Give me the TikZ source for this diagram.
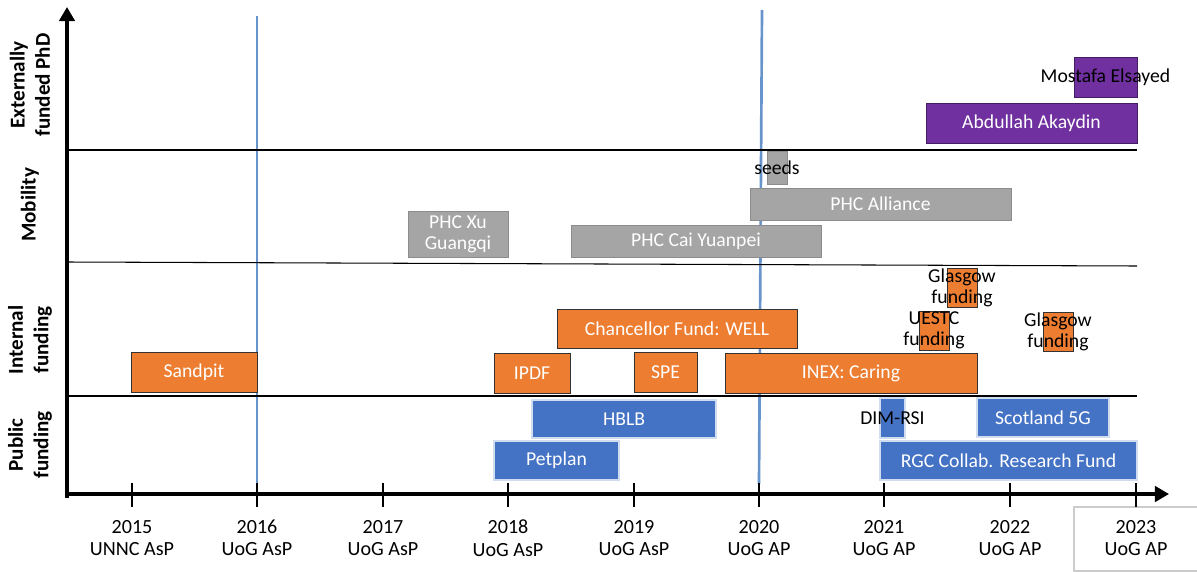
\documentclass[tikz,border=0pt]{standalone}
\usepackage{fontspec}
\setmainfont{Carlito}
\usetikzlibrary{arrows.meta}
\definecolor{barorange}{HTML}{ED7D31}
\definecolor{barblue}{HTML}{4472C4}
\definecolor{bargray}{HTML}{A5A5A5}
\definecolor{barpurple}{HTML}{7030A0}
\definecolor{milestone}{RGB}{104,148,204}
% \tlbox{name}{style}{x1}{y1}{x2}{y2}{text}: a bar spanning the given corners
\newcommand\tlbox[7]{\node[#2, minimum width={(#5-#3)*0.025cm}, minimum height={(#6-#4)*0.025cm}] (#1) at ({(#3+#5)/2},{(#4+#6)/2}) {#7};}
\begin{document}
\begin{tikzpicture}[x=0.025cm,y=-0.025cm,
  every node/.style={font=\fontsize{14}{15}\selectfont, inner sep=0pt},
  axis/.style={line width=2.2pt, -{Triangle[length=10pt,width=11pt]}},
  tick/.style={line width=1.6pt},
  lane/.style={line width=0.75pt},
  mile/.style={milestone, line width=1.9pt},
  lanelabel/.style={rotate=90, align=center, font=\fontsize{15}{18}\selectfont\bfseries},
  yearlabel/.style={align=center, font=\fontsize{14.3}{16}\selectfont},
  obar/.style={fill=barorange, draw=black!80, line width=0.7pt, text=white},
  bbar/.style={fill=barblue, draw=barblue!25, line width=1pt, text=white},
  gbar/.style={fill=bargray, draw=black!45, line width=0.7pt, text=white, align=center},
  pbar/.style={fill=barpurple, draw=barpurple!60!black, line width=0.7pt, text=white},
  over/.style={text=black, align=center}]
\useasboundingbox (0,0) rectangle (1197,572);

% milestone lines
\coordinate (m16top) at (257,16);
\coordinate (m16bot) at (257,484);
\coordinate (m20top) at (762,10);
\coordinate (m20bot) at (759,484);
\draw[mile] (m16top) -- (m16bot);
\draw[mile] (m20top) -- (m20bot);

% lane separators
\coordinate (l1a) at (67,150);  \coordinate (l1b) at (1137,150);
\coordinate (l2a) at (67,262);  \coordinate (l2b) at (1137,266);
\coordinate (l3a) at (67,396);  \coordinate (l3b) at (1137,396);
\draw[lane] (l1a) -- (l1b);
\draw[lane] (l2a) -- (l2b);
\draw[lane] (l3a) -- (l3b);

% lane labels
\node[lanelabel] (labExt) at (30,85) {Externally\\funded PhD};
\node[lanelabel] (labMob) at (30,205) {Mobility};
\node[lanelabel] (labInt) at (30,340) {Internal\\funding};
\node[lanelabel] (labPub) at (30,445) {Public\\funding};

% externally funded PhD
\tlbox{mostafa}{pbar}{1074}{57}{1137}{97}{}
\node[over] (mostafaT) at (mostafa.center) {Mostafa Elsayed};
\tlbox{abdullah}{pbar}{926}{103}{1137}{143}{Abdullah Akaydin}

% mobility
\tlbox{seeds}{gbar}{767}{151}{787}{184}{}
\node[over] (seedsT) at (seeds.center) {seeds};
\tlbox{alliance}{gbar}{750}{188}{1011}{220}{PHC Alliance}
\tlbox{xu}{gbar}{408}{211}{508}{257}{PHC Xu\\Guangqi}
\tlbox{cai}{gbar}{571}{225}{821}{257}{PHC Cai Yuanpei}

% internal funding
\tlbox{glasgowA}{obar}{947}{268}{977}{307}{}
\node[over] (glasgowAT) at (glasgowA.center) {Glasgow\\funding};
\tlbox{uestc}{obar}{919}{311}{949}{350}{}
\node[over] (uestcT) at (uestc.center) {UESTC\\funding};
\tlbox{glasgowB}{obar}{1043}{312}{1073}{351}{}
\node[over] (glasgowBT) at (glasgowB.center) {Glasgow\\funding};
\tlbox{well}{obar}{557}{309}{797}{348}{Chancellor Fund: WELL}
\tlbox{sandpit}{obar}{131}{352}{257}{392}{Sandpit}
\tlbox{ipdf}{obar}{494}{353}{570}{393}{IPDF}
\tlbox{spe}{obar}{634}{352}{697}{392}{SPE}
\tlbox{inex}{obar}{725}{353}{977}{393}{INEX: Caring}

% public funding
\tlbox{hblb}{bbar}{532}{400}{716}{438}{HBLB}
\tlbox{petplan}{bbar}{494}{441}{619}{480}{Petplan}
\tlbox{dim}{bbar}{880}{398}{905}{438}{}
\node[over] (dimT) at (dim.center) {DIM-RSI};
\tlbox{scot}{bbar}{977}{398}{1109}{437}{Scotland 5G}
\tlbox{rgc}{bbar}{880}{441}{1137}{480}{RGC Collab. Research Fund}

% label frame for the last year
\coordinate (fr1) at (1197,507); \coordinate (fr2) at (1074,507);
\coordinate (fr3) at (1074,571); \coordinate (fr4) at (1197,571);
\draw[black!20, line width=0.8pt] (fr1) -- (fr2) -- (fr3) -- (fr4);

% axes
\coordinate (origin) at (67,494);
\coordinate (ytop) at (67,7);
\coordinate (xend) at (1169,494);
\coordinate (ybot) at (67,498);
\draw[axis] (ybot) -- (ytop);
\draw[axis] (origin) -- (xend);

% year ticks and labels
\foreach \x/\yr/\role [count=\i] in {132/2015/UNNC AsP, 257/2016/UoG AsP, 383/2017/UoG AsP,
  508/2018/UoG AsP, 634/2019/UoG AsP, 759/2020/UoG AP, 884/2021/UoG AP,
  1010/2022/UoG AP, 1136/2023/UoG AP}{
  \draw[tick] (\x,483) -- (\x,507);
  \node[yearlabel] (year\i) at (\x,538) {\yr\\\role};
}
\end{tikzpicture}
\end{document}
